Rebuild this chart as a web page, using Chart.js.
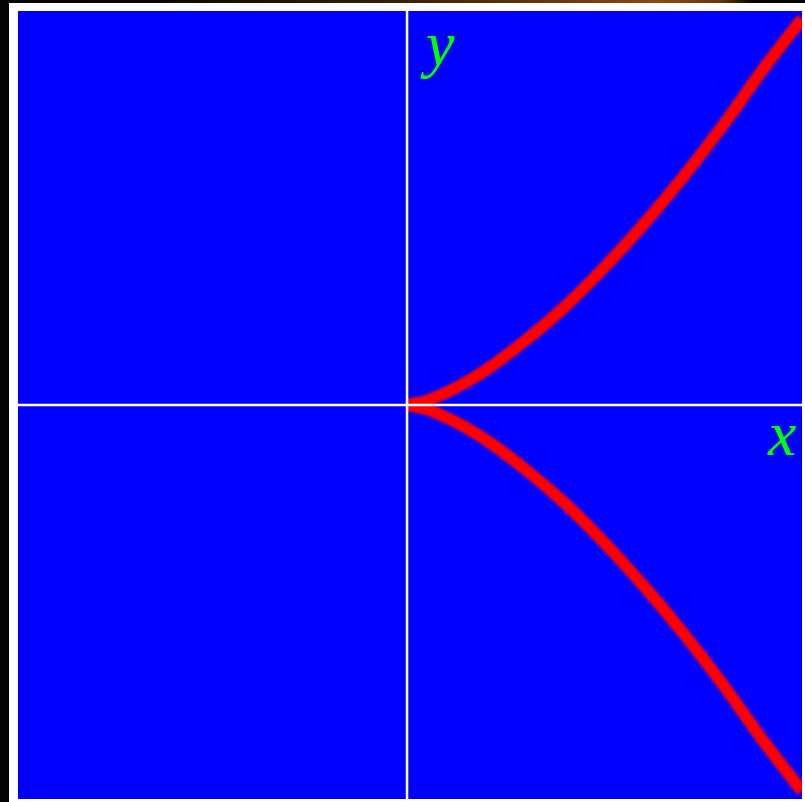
<!DOCTYPE html>
<html>
<head>
<meta charset="utf-8">
<script src="https://cdn.jsdelivr.net/npm/chart.js@4.4.1/dist/chart.umd.min.js"></script>
<style>
  html, body { margin: 0; padding: 0; background: #050505; }
  #strip {
    position: absolute; left: 0; top: 0; width: 805px; height: 3px;
    background: linear-gradient(90deg, #050505 0px, #0a0503 150px, #3a1e08 400px, #8a4a12 660px, #6a380c 720px, #050505 752px, #050505 805px);
  }
  #frame {
    position: absolute; left: 9px; top: 3px; width: 796px; height: 799px;
    background: #ffffff;
  }
  #wrap {
    position: absolute; left: 9px; top: 8px; width: 784px; height: 788px;
  }
</style>
</head>
<body>
<div id="strip"></div>
<div id="frame">
  <div id="wrap"><canvas id="chart"></canvas></div>
</div>
<script>
const ctx = document.getElementById("chart");

// curve y^2 = x^3, upper and lower branch
const curveX = [0, 0.05, 0.1, 0.15, 0.2, 0.3, 0.4, 0.5, 0.6, 0.7, 0.8, 0.9, 1.0];
const upperY = [0, 0.011, 0.032, 0.058, 0.089, 0.164, 0.25, 0.35, 0.46, 0.58, 0.71, 0.85, 0.98];
const lowerY = [0, -0.011, -0.032, -0.058, -0.089, -0.164, -0.25, -0.35, -0.46, -0.58, -0.71, -0.85, -0.98];

// axis lines through the origin
const xAxisX = [-0.985, 1];
const xAxisY = [0, 0];
const yAxisX = [0, 0];
const yAxisY = [-1.02, 1.02];

const axisLabels = ["x", "y"];
const labelX = [0.95, 0.084];
const labelY = [-0.128, 0.862];

function toPoints(xs, ys) {
  return xs.map((x, i) => ({ x: x, y: ys[i] }));
}

// blue plot background
const backgroundPlugin = {
  id: "blueBack",
  beforeDraw(chart) {
    const a = chart.chartArea;
    const c = chart.ctx;
    c.save();
    c.fillStyle = "#0000ff";
    c.fillRect(a.left, a.top, a.right - a.left, a.bottom - a.top);
    c.restore();
  },
};

// soften the red curve a little
const softPlugin = {
  id: "softCurve",
  beforeDatasetDraw(chart, args) {
    if (args.index >= 2) {
      chart.ctx.save();
      chart.ctx.filter = "blur(1px)";
    }
  },
  afterDatasetDraw(chart, args) {
    if (args.index >= 2) {
      chart.ctx.restore();
    }
  },
};

// green italic x / y labels
const labelPlugin = {
  id: "axisLetters",
  afterDatasetsDraw(chart) {
    const c = chart.ctx;
    const sx = chart.scales.x;
    const sy = chart.scales.y;
    c.save();
    c.fillStyle = "#00ff00";
    c.font = "italic 64px Liberation Serif";
    c.textAlign = "center";
    c.textBaseline = "alphabetic";
    for (let i = 0; i < axisLabels.length; i++) {
      c.fillText(axisLabels[i], sx.getPixelForValue(labelX[i]), sy.getPixelForValue(labelY[i]));
    }
    c.restore();
  },
};

const curveStyle = {
  showLine: true,
  borderColor: "#ff0000",
  borderWidth: 12,
  pointRadius: 0,
  cubicInterpolationMode: "monotone",
  borderCapStyle: "butt",
};

const axisStyle = {
  showLine: true,
  borderColor: "#ffffff",
  borderWidth: 2.5,
  pointRadius: 0,
};

new Chart(ctx, {
  type: "scatter",
  data: {
    datasets: [
      Object.assign({ label: "x axis", data: toPoints(xAxisX, xAxisY) }, axisStyle),
      Object.assign({ label: "y axis", data: toPoints(yAxisX, yAxisY) }, axisStyle),
      Object.assign({ label: "upper", data: toPoints(curveX, upperY) }, curveStyle),
      Object.assign({ label: "lower", data: toPoints(curveX, lowerY) }, curveStyle),
    ],
  },
  options: {
    responsive: true,
    maintainAspectRatio: false,
    animation: false,
    layout: { padding: 0 },
    plugins: {
      legend: { display: false },
      tooltip: { enabled: false },
    },
    scales: {
      x: { type: "linear", min: -0.985, max: 1, display: false },
      y: { type: "linear", min: -1, max: 1, display: false },
    },
  },
  plugins: [backgroundPlugin, softPlugin, labelPlugin],
});
</script>
</body>
</html>
